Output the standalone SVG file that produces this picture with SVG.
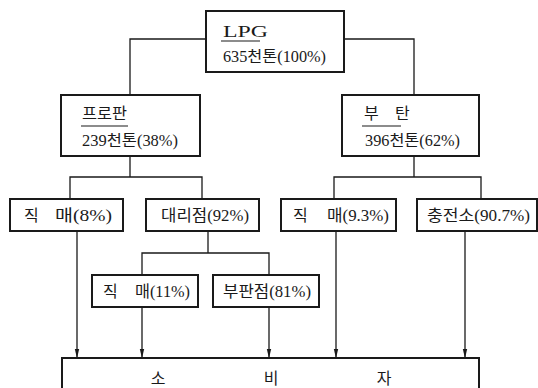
<svg xmlns="http://www.w3.org/2000/svg" width="538" height="388" viewBox="0 0 538 388">
<style>
.box{fill:#fff;stroke:#1a1a1a;stroke-width:2}
.ln{fill:none;stroke:#1a1a1a;stroke-width:1.3}
.ul{stroke:#1a1a1a;stroke-width:1.2}
text{font-family:"Liberation Serif","Noto Sans CJK KR",serif;font-size:16px;fill:#1a1a1a}
</style>
<defs>
<marker id="ah" markerUnits="userSpaceOnUse" markerWidth="9" markerHeight="6" refX="9" refY="3" orient="auto">
<path d="M0,0.8 L9,3 L0,5.2 z" fill="#1a1a1a"/>
</marker>
</defs>
<rect width="538" height="388" fill="#fff"/>
<g id="connectors">
<path class="ln" d="M206,39 H130 V95 M344,39 H414 V95"/>
<path class="ln" d="M130,156 V177 M70,199 V177 H202 V199"/>
<path class="ln" d="M414,156 V177 M334,199 V177 H481 V199"/>
<path class="ln" d="M208,231 V253 M142,275 V253 H269 V275"/>
<path class="ln" marker-end="url(#ah)" d="M77,231 V358"/>
<path class="ln" marker-end="url(#ah)" d="M142,307 V358"/>
<path class="ln" marker-end="url(#ah)" d="M269,307 V358"/>
<path class="ln" marker-end="url(#ah)" d="M336,231 V358"/>
<path class="ln" marker-end="url(#ah)" d="M465,231 V358"/>
</g>
<g id="lpg">
<rect class="box" x="206" y="11" width="138" height="61"/>
<text x="223" y="37" textLength="45" lengthAdjust="spacingAndGlyphs">LPG</text>
<line class="ul" x1="221" y1="41" x2="260" y2="41"/>
<text x="223" y="62" textLength="103" lengthAdjust="spacingAndGlyphs">635천톤(100%)</text>
</g>
<g id="propane">
<rect class="box" x="61" y="95" width="139" height="61"/>
<text x="82" y="119" textLength="45" lengthAdjust="spacingAndGlyphs">프로판</text>
<line class="ul" x1="81" y1="126" x2="128" y2="126"/>
<text x="82" y="146" textLength="96" lengthAdjust="spacingAndGlyphs">239천톤(38%)</text>
</g>
<g id="butane">
<rect class="box" x="342" y="95" width="137" height="61"/>
<text y="119"><tspan x="364">부</tspan><tspan x="395">탄</tspan></text>
<line class="ul" x1="362" y1="126" x2="401" y2="126"/>
<text x="365" y="146" textLength="95" lengthAdjust="spacingAndGlyphs">396천톤(62%)</text>
</g>
<g id="propane-direct">
<rect class="box" x="10" y="199" width="113" height="32"/>
<text y="221"><tspan x="24">직 </tspan><tspan x="55" textLength="57" lengthAdjust="spacingAndGlyphs">매(8%)</tspan></text>
</g>
<g id="agency">
<rect class="box" x="146" y="199" width="113" height="32"/>
<text x="161" y="221" textLength="88" lengthAdjust="spacingAndGlyphs">대리점(92%)</text>
</g>
<g id="butane-direct">
<rect class="box" x="281" y="199" width="115" height="32"/>
<text y="221"><tspan x="293">직 </tspan><tspan x="327" textLength="62" lengthAdjust="spacingAndGlyphs">매(9.3%)</tspan></text>
</g>
<g id="station">
<rect class="box" x="417" y="199" width="120" height="32"/>
<text x="427" y="221" textLength="103" lengthAdjust="spacingAndGlyphs">충전소(90.7%)</text>
</g>
<g id="agency-direct">
<rect class="box" x="92" y="275" width="106" height="32"/>
<text y="297"><tspan x="103">직 </tspan><tspan x="135" textLength="55" lengthAdjust="spacingAndGlyphs">매(11%)</tspan></text>
</g>
<g id="subagency">
<rect class="box" x="213" y="275" width="106" height="32"/>
<text x="223" y="297" textLength="88" lengthAdjust="spacingAndGlyphs">부판점(81%)</text>
</g>
<g id="consumer">
<path class="box" d="M62,395 V358 H479 V395"/>
<text x="158" y="384" text-anchor="middle">소</text>
<text x="271" y="384" text-anchor="middle">비</text>
<text x="384" y="384" text-anchor="middle">자</text>
</g>
</svg>
